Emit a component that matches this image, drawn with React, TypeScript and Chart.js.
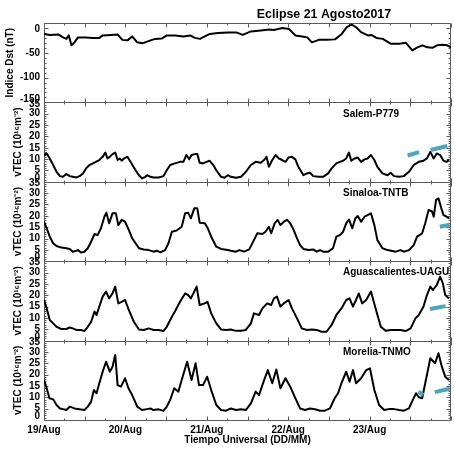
import React, { useEffect, useRef } from 'react';
import { Chart, registerables } from 'chart.js';

Chart.register(...registerables);

const FONT = '"Liberation Sans", Arial, Helvetica, sans-serif';

const CHART_TITLE = 'Eclipse 21 Agosto2017';
const X_TITLE = 'Tiempo Universal (DD/MM)';
const DAY_LABELS = ['19/Aug', '20/Aug', '21/Aug', '22/Aug', '23/Aug'];
const DST_TITLE = 'Indice Dst (nT)';
const TEC_TITLE = 'vTEC (10¹⁶m⁻²)';
const STATION_NAMES = ['Salem-P779', 'Sinaloa-TNTB', 'Aguascalientes-UAGU', 'Morelia-TNMO'];

// Dst index (nT) vs hours since 19/Aug 00 UT
const dstHours = [0,1.7,4.2,5.6,6.6,7.3,8.1,9.0,10.0,12.4,14.4,16.3,17.3,19.7,21.7,23.1,24.6,26.0,27.5,29.0,31.4,32.8,34.8,36.2,38.7,41.1,43.1,44.5,46.0,47.4,48.9,51.3,54.2,56.7,58.6,61.0,63.9,66.4,67.8,70.3,72.2,74.1,76.1,77.6,79.0,81.0,83.4,85.8,87.8,89.2,90.7,92.1,93.6,95.5,96.5,98.0,99.9,102.3,104.8,106.7,108.6,110.1,111.6,113.0,114.5,115.9,117.4,118.9,120];
const dstValues = [-12,-14,-13,-19,-22,-15,-35,-29,-19,-19,-20,-20,-15,-14,-13,-24,-25,-17,-29,-31,-25,-22,-21,-15,-15,-17,-15,-20,-22,-17,-12,-10,-9,-9,-14,-7,-5,-3,-4,0,-2,-15,-17,-19,-29,-24,-24,-23,-12,1,7,1,-9,-15,-14,-20,-22,-32,-32,-30,-45,-39,-35,-39,-40,-35,-34,-35,-39];

// Salem-P779 vTEC
const salemHours = [0,0.8,1.7,2.7,3.7,4.7,5.6,6.6,7.6,8.5,9.5,10.5,11.5,12.4,13.4,14.4,15.3,16.3,17.3,18.1,18.7,19.4,20.2,21.0,21.7,22.3,22.9,23.6,24.6,25.5,27.0,28.0,28.9,29.9,30.4,31.4,32.3,33.8,35.2,36.2,37.2,38.6,40.1,41.1,42.0,42.8,43.5,44.5,45.2,45.9,46.9,47.9,48.8,49.8,50.8,52.2,53.2,54.2,55.1,56.6,58.1,59.5,61.0,62.4,63.9,64.9,65.6,66.3,67.3,68.3,69.2,70.2,71.2,72.1,73.1,74.1,75.0,76.5,77.5,78.4,79.4,80.9,82.3,83.8,84.8,86.2,87.2,88.2,89.1,89.9,90.6,91.6,92.5,93.5,94.5,95.4,96.4,97.4,98.3,99.8,101.3,102.2,103.2,104.7,106.1,107.6,109.0,110.5,111.9,112.9,113.9,114.9,115.8,116.8,117.8,118.7,119.4];
const salemValues = [11.8,12.5,10.3,7.4,4.4,2.5,2.2,3.4,2.5,2.2,1.9,2.5,3.7,5.9,7.4,8.1,8.8,9.6,11.0,12.9,10.3,11.0,12.2,12.9,9.6,10.3,9.3,10.3,11.0,8.8,5.1,2.9,1.5,2.2,2.9,2.2,1.9,1.9,2.5,5.1,7.4,8.1,8.8,8.8,11.8,9.9,11.8,12.2,12.2,8.4,8.1,8.8,9.3,7.6,5.1,2.2,1.8,2.9,2.2,1.8,2.2,4.4,7.4,8.8,8.4,9.6,11.0,6.6,9.6,11.8,10.3,9.6,8.8,10.7,11.0,9.9,6.6,2.9,3.7,4.0,2.5,2.2,2.2,3.7,5.9,8.1,8.8,9.3,10.3,12.9,9.3,10.3,10.7,8.8,9.9,10.3,11.8,9.6,6.6,3.7,2.9,4.0,2.5,2.2,2.5,4.4,7.4,8.8,9.3,10.3,13.2,10.3,12.5,11.8,9.3,8.8,9.6];
const salemRefHours = [107.2,110.6,110.6,114.0,118.9];
const salemRefValues = [11.6,13.1,null,14.0,15.8];

// Sinaloa-TNTB vTEC
const sinaloaHours = [0,0.8,1.7,2.7,3.7,5.1,6.6,7.6,8.5,9.5,10.0,11.0,11.9,12.9,13.9,14.9,15.8,16.8,17.8,18.4,19.2,20.2,21.2,21.9,22.9,23.9,25.0,26.0,27.0,28.0,29.4,30.9,32.3,33.3,34.3,35.7,36.7,37.7,39.1,40.6,41.6,42.5,43.3,44.3,45.2,45.9,47.4,48.3,49.3,50.8,52.2,54.2,55.1,56.6,57.6,59.0,60.5,61.9,62.9,64.4,65.3,66.3,67.0,68.0,68.9,69.7,70.7,71.7,72.6,73.6,74.6,75.5,76.5,78.0,79.4,80.4,81.4,82.3,83.8,85.2,86.2,87.2,88.2,89.1,89.9,90.9,91.8,92.5,93.5,94.5,95.4,96.4,97.4,98.3,99.8,101.3,102.7,103.7,105.1,106.1,107.6,109.0,110.0,111.5,112.4,113.4,114.4,114.9,115.6,116.3,117.3,117.8,118.7,119.4];
const sinaloaValues = [17.4,14.5,10.8,7.9,6.7,6.0,5.7,5.4,4.2,4.6,4.9,3.8,4.2,5.7,8.6,12.0,11.5,14.5,19.6,21.4,16.7,21.1,21.1,15.9,18.2,17.4,13.8,10.1,7.9,5.7,5.2,4.9,4.2,4.6,3.9,4.9,7.9,13.0,13.5,15.2,21.1,21.4,18.9,23.3,23.3,17.0,16.7,14.5,10.8,6.4,5.4,4.9,4.6,4.2,4.9,4.2,5.2,9.3,12.3,12.0,13.0,15.2,12.3,16.7,18.2,15.9,17.4,18.2,16.7,13.8,10.1,7.1,5.4,4.9,5.2,4.2,4.9,4.2,4.2,5.7,10.8,11.5,13.0,16.7,18.4,14.5,18.9,19.9,17.4,19.6,20.3,21.1,15.9,9.3,5.7,4.9,4.5,4.2,4.9,4.2,4.9,7.1,10.8,12.3,16.7,22.6,21.9,19.6,27.0,27.7,22.6,20.3,19.6,18.9];
const sinaloaRefHours = [116.7,119.6];
const sinaloaRefValues = [15.2,16.1];

// Aguascalientes-UAGU vTEC
const aguaHours = [0,0.8,1.7,2.7,3.7,5.1,6.6,7.6,8.5,9.5,11.0,11.9,12.9,13.9,14.9,15.5,16.3,17.3,18.3,19.2,20.2,21.0,21.9,22.9,23.9,25.0,26.5,28.0,29.4,30.9,32.3,33.8,35.2,36.2,37.7,38.6,40.1,41.6,42.5,43.3,44.3,45.0,45.9,47.4,48.2,49.3,50.8,52.2,53.7,55.1,56.6,58.1,59.5,61.0,61.9,63.4,64.4,65.8,67.0,67.8,68.7,69.7,70.7,72.1,73.1,74.6,76.0,77.5,78.9,80.4,81.8,83.3,84.8,86.2,87.7,89.1,90.1,91.1,92.0,92.8,93.8,95.0,96.4,97.9,99.3,100.8,102.2,103.7,105.1,106.6,108.1,109.5,110.5,111.9,112.9,113.9,114.7,115.8,116.8,117.6,118.3,119.4];
const aguaValues = [17.9,14.2,9.1,7.6,6.1,5.1,5.1,5.8,5.4,4.7,4.7,4.2,6.1,8.3,12.8,11.3,15.0,19.4,21.6,18.6,20.8,23.8,16.4,17.1,17.9,13.5,8.3,4.9,4.7,5.4,4.7,4.7,4.2,6.1,10.5,12.8,17.1,20.8,20.1,18.6,21.6,23.8,15.7,16.4,17.1,12.0,7.6,4.9,4.7,4.9,4.3,4.3,4.7,7.6,12.0,11.3,14.2,16.4,15.7,18.6,19.4,15.0,16.4,17.9,14.2,9.8,5.4,4.7,4.9,4.7,3.9,3.9,6.9,11.3,14.2,17.9,18.6,15.0,17.9,20.8,16.4,17.9,21.6,13.5,6.1,4.3,4.7,4.7,4.7,4.2,5.4,9.8,11.3,15.0,20.1,23.8,22.3,24.5,28.2,25.2,20.1,18.6];
const aguaRefHours = [113.8,118.4];
const aguaRefValues = [13.9,15.2];

// Morelia-TNMO vTEC
const moreliaHours = [0,0.8,1.6,2.7,3.7,4.7,5.6,6.6,7.6,9.0,10.5,11.9,12.9,13.9,14.7,15.5,16.3,17.3,18.3,19.4,20.2,21.0,21.7,22.7,23.9,24.9,26.0,27.5,28.9,30.4,31.4,32.3,33.8,35.2,36.2,37.2,38.4,39.6,40.6,42.2,43.5,44.7,45.7,46.9,48.1,49.3,50.8,52.2,53.7,55.1,56.6,58.1,59.5,61.0,62.4,63.4,64.9,66.0,67.3,68.5,69.7,71.2,72.6,74.1,75.5,77.0,78.4,79.9,81.4,82.8,84.3,85.7,86.7,87.7,89.1,90.1,91.1,92.0,93.5,95.0,96.1,97.4,98.8,100.3,101.7,103.2,104.7,106.1,107.6,108.5,109.7,110.5,111.5,112.4,113.9,115.3,116.3,117.3,118.3,119.4];
const moreliaValues = [17.6,14.0,9.6,9.1,6.6,5.1,4.8,4.4,5.9,5.1,4.7,4.4,5.9,8.1,13.2,11.8,16.2,21.3,25.7,21.3,23.5,28.7,15.4,14.7,18.4,14.0,11.0,5.9,4.4,4.8,5.1,4.4,4.7,4.0,5.9,8.8,14.0,12.5,17.6,25.7,17.6,25.0,15.4,15.4,19.1,13.2,6.6,4.4,4.1,5.1,4.4,4.7,4.4,7.3,12.5,11.0,17.6,22.0,16.2,22.3,14.0,18.4,14.7,9.6,5.1,4.4,5.1,4.7,4.1,4.1,5.1,9.6,11.8,16.2,21.3,16.9,22.0,16.2,18.4,22.0,22.8,13.2,6.6,4.4,4.8,4.8,4.4,4.1,5.1,8.1,11.8,10.0,9.6,16.2,27.2,25.0,29.4,23.5,19.1,17.6];
const moreliaRefHours = [110.4,111.8,111.8,115.2,119.6];
const moreliaRefValues = [12.5,11.0,null,12.3,13.8];

const LINE_COLOR = '#000000';
const REF_COLOR = '#4aa6b8';
const FRAME_COLOR = '#5a5a5a';

const toPoints = (xs: number[], ys: (number | null)[]) => xs.map((x, i) => ({ x, y: ys[i] }));

const PANELS = [
  { id: 'yD', min: -150, max: 10, major: 50, minor: 10, title: DST_TITLE, titlePad: 4, station: '' },
  { id: 'y1', min: 0, max: 35, major: 5, minor: 1, title: TEC_TITLE, titlePad: 12, station: STATION_NAMES[0] },
  { id: 'y2', min: 0, max: 35, major: 5, minor: 1, title: TEC_TITLE, titlePad: 12, station: STATION_NAMES[1] },
  { id: 'y3', min: 0, max: 35, major: 5, minor: 1, title: TEC_TITLE, titlePad: 12, station: STATION_NAMES[2] },
  { id: 'y4', min: 0, max: 35, major: 5, minor: 1, title: TEC_TITLE, titlePad: 12, station: STATION_NAMES[3] },
];

const framePlugin = {
  id: 'panelFrames',
  beforeDatasetsDraw(chart: any) {
    const { ctx, chartArea } = chart;
    const xs = chart.scales.x;
    ctx.save();
    ctx.strokeStyle = FRAME_COLOR;
    ctx.lineWidth = 1;
    const seg = (x1: number, y1: number, x2: number, y2: number) => {
      ctx.beginPath();
      ctx.moveTo(x1, y1);
      ctx.lineTo(x2, y2);
      ctx.stroke();
    };
    PANELS.forEach((p) => {
      const ys = chart.scales[p.id];
      const top = Math.round(ys.top) + 0.5;
      const bottom = Math.round(ys.bottom) + 0.5;
      const left = Math.round(chartArea.left) + 0.5;
      const right = Math.round(chartArea.right) - 0.5;
      seg(left, top, right, top);
      seg(left, bottom, right, bottom);
      seg(left, top, left, bottom);
      seg(right, top, right, bottom);
      for (let h = xs.min; h <= xs.max + 1e-6; h += 6) {
        const px = Math.round(xs.getPixelForValue(h)) + 0.5;
        const len = h % 12 === 0 ? 4 : 2;
        seg(px, top, px, top + len);
        seg(px, bottom, px, bottom - len);
      }
      for (let v = p.min; v <= p.max + 1e-6; v += p.minor) {
        const py = Math.round(ys.getPixelForValue(v)) + 0.5;
        const len = v % p.major === 0 ? 4 : 2;
        seg(left, py, left + len, py);
        seg(right, py, right - len, py);
      }
    });
    ctx.restore();
  },
  afterDraw(chart: any) {
    const { ctx, chartArea } = chart;
    ctx.save();
    ctx.fillStyle = '#000';
    ctx.textBaseline = 'middle';
    ctx.textAlign = 'center';
    ctx.font = `bold 12.4px ${FONT}`;
    ctx.fillText(CHART_TITLE, chartArea.left + 280, 15);
    ctx.textAlign = 'left';
    ctx.font = `bold 10px ${FONT}`;
    PANELS.forEach((p) => {
      if (!p.station) return;
      const ys = chart.scales[p.id];
      ctx.fillText(p.station, chartArea.left + 299, ys.top + 11.5);
    });
    ctx.restore();
  },
};

export default function App() {
  const ref = useRef<HTMLCanvasElement>(null);

  useEffect(() => {
    if (!ref.current) return;
    const titleFont = { family: FONT, size: 10, weight: 'bold' as const, lineHeight: 1.2 };

    const yScales: any = {};
    PANELS.forEach((p, i) => {
      yScales[p.id] = {
        type: 'linear',
        position: 'left',
        stack: 'panels',
        stackWeight: 1,
        weight: PANELS.length - i,
        min: p.min,
        max: p.max,
        grid: { display: false, drawTicks: false },
        border: { display: false },
        ticks: {
          stepSize: p.major,
          autoSkip: false,
          includeBounds: false,
          padding: 4,
          color: '#000',
          // end labels sit slightly inside the panel, as in the original plot
          font: (c: any) => {
            const v = c.tick ? c.tick.value : null;
            let lh = 1.2;
            if (v === p.min) lh = 0.7;
            else if (v === p.max - (p.max % p.major)) lh = 0.3;
            return { family: FONT, size: 10, weight: 'bold', lineHeight: lh };
          },
          callback: (v: any) => {
            const n = Number(v);
            if (n === p.min) return [String(n), ''];
            if (n === p.max - (p.max % p.major)) return ['', String(n)];
            return String(n);
          },
        },
        title: {
          display: true,
          text: p.title,
          color: '#000',
          font: titleFont,
          padding: { top: p.titlePad, bottom: 0 },
        },
        afterFit: (s: any) => {
          s.width = 44;
        },
      };
    });

    const lineDs = (xs: number[], ys: number[], axis: string) => ({
      data: toPoints(xs, ys),
      yAxisID: axis,
      borderColor: LINE_COLOR,
      borderWidth: 2,
      pointRadius: 0,
      tension: 0,
      fill: false,
      borderJoinStyle: 'round' as const,
    });
    const refDs = (xs: number[], ys: (number | null)[], axis: string) => ({
      data: toPoints(xs, ys),
      yAxisID: axis,
      borderColor: REF_COLOR,
      borderWidth: 4,
      pointRadius: 0,
      tension: 0,
      fill: false,
      spanGaps: false,
      borderCapStyle: 'butt' as const,
    });

    const chart = new Chart(ref.current, {
      type: 'line',
      data: {
        datasets: [
          refDs(salemRefHours, salemRefValues, 'y1'),
          refDs(sinaloaRefHours, sinaloaRefValues, 'y2'),
          refDs(aguaRefHours, aguaRefValues, 'y3'),
          refDs(moreliaRefHours, moreliaRefValues, 'y4'),
          lineDs(dstHours, dstValues, 'yD'),
          lineDs(salemHours, salemValues, 'y1'),
          lineDs(sinaloaHours, sinaloaValues, 'y2'),
          lineDs(aguaHours, aguaValues, 'y3'),
          lineDs(moreliaHours, moreliaValues, 'y4'),
        ] as any,
      },
      options: {
        animation: false,
        responsive: false,
        devicePixelRatio: 1,
        layout: { padding: { top: 23, left: 0, right: 0, bottom: 0 } },
        plugins: {
          legend: { display: false },
          tooltip: { enabled: false },
          title: { display: false },
        },
        scales: {
          x: {
            type: 'linear',
            position: 'bottom',
            min: 0,
            max: 120,
            grid: { display: false, drawTicks: false },
            border: { display: false },
            ticks: {
              stepSize: 24,
              autoSkip: false,
              maxRotation: 0,
              includeBounds: false,
              padding: 5,
              color: '#000',
              font: { family: FONT, size: 10, weight: 'bold', lineHeight: 1 },
              callback: (v: any) => DAY_LABELS[Math.round(Number(v) / 24)] ?? '',
            },
            title: {
              display: true,
              text: X_TITLE,
              color: '#000',
              font: { family: FONT, size: 10, weight: 'bold', lineHeight: 1 },
              padding: { top: 0, bottom: 4 },
            },
            afterFit: (s: any) => {
              s.height = 29;
            },
          },
          ...yScales,
        },
      } as any,
      plugins: [framePlugin],
    });
    return () => chart.destroy();
  }, []);

  return (
    <div style={{ position: 'fixed', left: 0, top: 0, width: 456, height: 449, background: '#fff' }}>
      <canvas ref={ref} width={456} height={449} style={{ display: 'block', width: 456, height: 449 }} />
    </div>
  );
}
